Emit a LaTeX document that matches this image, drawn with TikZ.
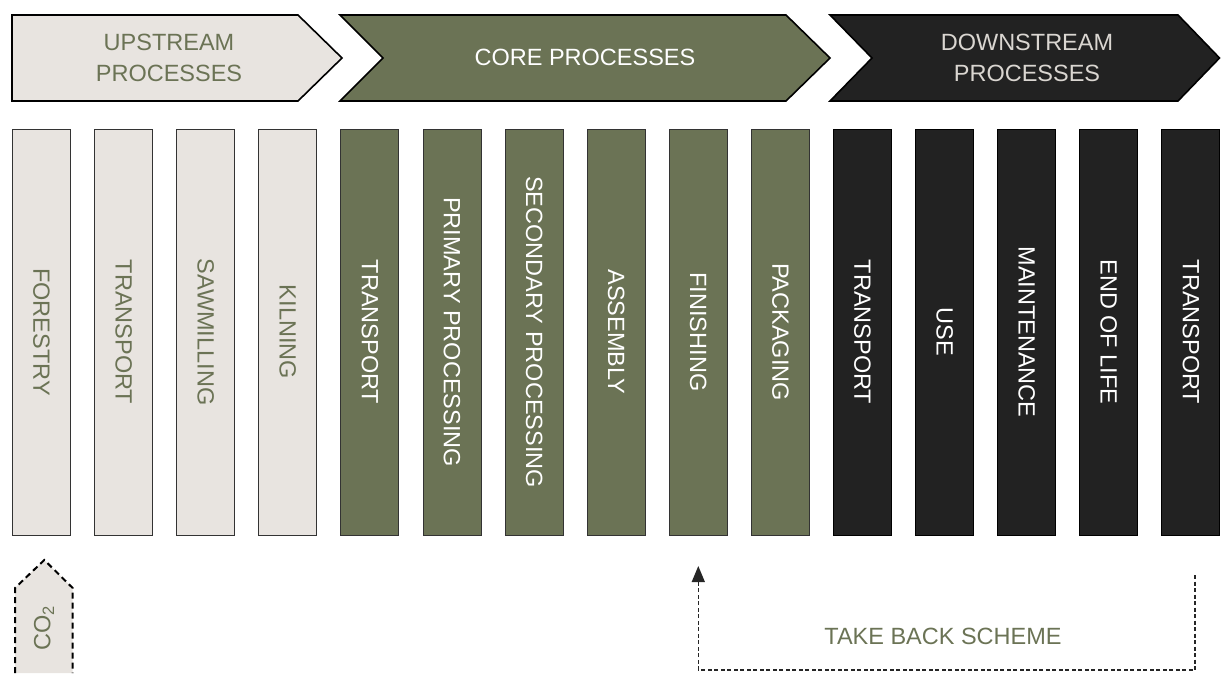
\documentclass[tikz,border=0pt]{standalone}
\usepackage{fontspec}
\setmainfont{Liberation Sans}
\usetikzlibrary{arrows.meta}
\definecolor{lightc}{HTML}{E8E4E0}
\definecolor{olivec}{HTML}{6B7355}
\definecolor{darkc}{HTML}{222222}
\definecolor{greytext}{HTML}{DAD6D1}
\begin{document}
\begin{tikzpicture}[x=1pt,y=-1pt,
  txt/.style={font=\fontsize{23.5}{31.7}\selectfont, inner sep=0pt},
  chev/.style={line width=1.6pt, draw=black, line join=miter},
  colbase/.style={txt, rotate=-90, minimum width=406pt, minimum height=58pt, line width=0.9pt},
  colL/.style={colbase, fill=lightc, draw=black!80, text=olivec},
  colO/.style={colbase, fill=olivec, draw=black!80, text=white},
  colD/.style={colbase, fill=darkc, draw=black, text=white},
  tbline/.style={draw=black!85, line width=1.3pt, dash pattern=on 4pt off 2.5pt}
]
\useasboundingbox (0,0) rectangle (1221,673);

% chevrons
\path[chev, fill=lightc] (12,15) -- (298,15) -- (342,58) -- (298,101) -- (12,101) -- cycle;
\path[chev, fill=olivec] (340,15) -- (786,15) -- (830,58) -- (786,101) -- (340,101) -- (383,58) -- cycle;
\path[chev, fill=darkc] (830,15) -- (1178,15) -- (1219.5,58) -- (1178,101) -- (830,101) -- (872,58) -- cycle;
\node[txt, text=olivec, align=center] (up) at (169,58) {UPSTREAM\\PROCESSES};
\node[txt, text=white] (core) at (585,57) {CORE PROCESSES};
\node[txt, text=greytext, align=center] (down) at (1027,58) {DOWNSTREAM\\PROCESSES};

% columns
\node[colL] (c1)  at (41.5,332)  {FORESTRY};
\node[colL] (c2)  at (123.6,332) {TRANSPORT};
\node[colL] (c3)  at (205.7,332) {SAWMILLING};
\node[colL] (c4)  at (287.8,332) {KILNING};
\node[colO] (c5)  at (369.9,332) {TRANSPORT};
\node[colO] (c6)  at (452.0,332) {PRIMARY PROCESSING};
\node[colO] (c7)  at (534.1,332) {SECONDARY PROCESSING};
\node[colO] (c8)  at (616.2,332) {ASSEMBLY};
\node[colO] (c9)  at (698.3,332) {FINISHING};
\node[colO] (c10) at (780.4,332) {PACKAGING};
\node[colD] (c11) at (862.5,332) {TRANSPORT};
\node[colD] (c12) at (944.6,332) {USE};
\node[colD] (c13) at (1026.7,332) {MAINTENANCE};
\node[colD] (c14) at (1108.8,332) {END OF LIFE};
\node[colD] (c15) at (1190.9,332) {TRANSPORT};

% CO2 arrow
\fill[lightc] (15,673) -- (15,588) -- (44.3,560) -- (72.7,588) -- (72.7,673) -- cycle;
\draw[black, line width=2pt, dash pattern=on 6pt off 4pt] (15,673) -- (15,588) -- (44.3,560) -- (72.7,588) -- (72.7,673);
\node[txt, rotate=90, text=olivec] (co2) at (44,628) {CO\textsubscript{2}};

% take back scheme
\coordinate (tbStart) at (1195,575);
\coordinate (tbEnd) at (698.3,566);
\draw[tbline, -{Triangle[width=13pt,length=16pt]}] (tbStart) -- ++(0,95) -| (tbEnd);
\node[txt, text=olivec] (tb) at (943,636) {TAKE BACK SCHEME};
\end{tikzpicture}
\end{document}
